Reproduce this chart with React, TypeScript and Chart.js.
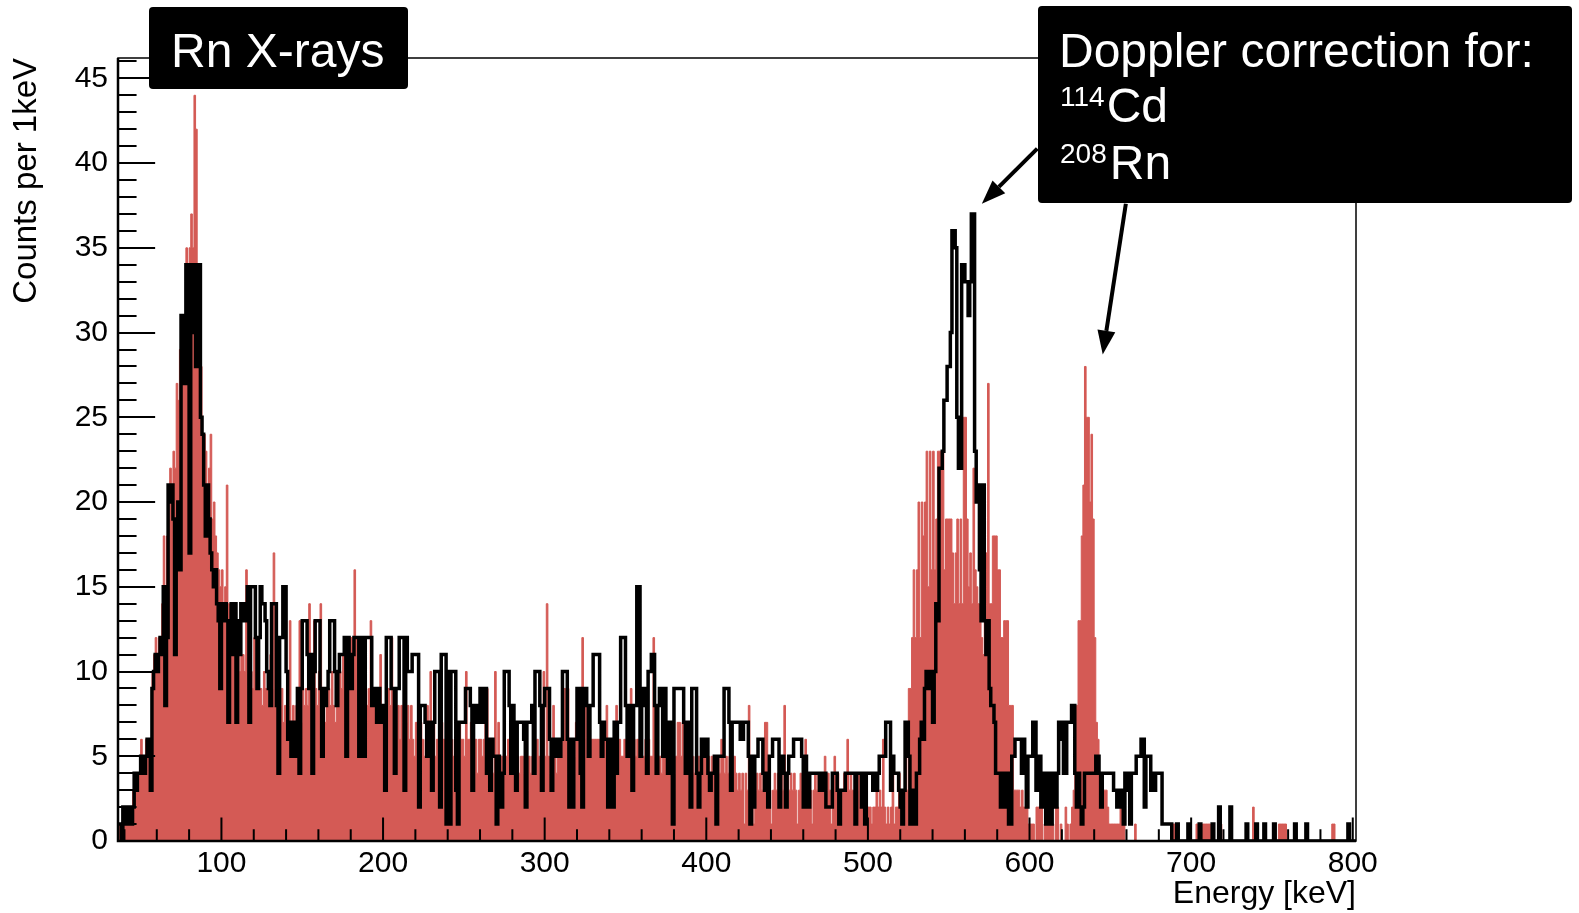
import React, { useEffect, useRef } from "react";
import { Chart, registerables } from "chart.js";

Chart.register(...registerables);

const FONT = "'Liberation Sans', Arial, Helvetica, sans-serif";

// Axis ranges (keV / counts), 1 keV bins starting at xMin
const xMin = 36;
const xMax = 802;
const yMax = 46.2;
const binWidth = 1;
const xTickValues = [100, 200, 300, 400, 500, 600, 700, 800];
const yTickValues = [0, 5, 10, 15, 20, 25, 30, 35, 40, 45];
const xMinorStep = 20;
const yMinorStep = 1;

// Black histogram (Doppler correction for 114Cd), counts per 1 keV bin
const blackA = [
  1, 1, 0, 2, 2, 1, 2, 2, 1, 2, // 36
  4, 3, 4, 4, 5, 5, 4, 5, 6, 5, // 46
  3, 9, 10, 11, 10, 11, 12, 11, 15, 8, // 56
  12, 21, 20, 21, 19, 11, 19, 20, 16, 31, // 66
  30, 27, 34, 34, 17, 30, 34, 33, 28, 34, // 76
  34, 25, 24, 21, 18, 21, 19, 17, 16, 15, // 86
  16, 14, 13, 9, 14, 13, 14, 13, 7, 12, // 96
  14, 11, 14, 7, 13, 11, 14, 14, 13, 14, // 106
  15, 7, 15, 15, 15, 12, 9, 12, 15, 14, // 116
  14, 13, 10, 9, 8, 14, 14, 14, 8, 4, // 126
  12, 12, 15, 15, 10, 6, 7, 5, 7, 5, // 136
  7, 9, 4, 9, 13, 13, 13, 11, 9, 11, // 146
  4, 10, 13, 13, 13, 9, 5, 9, 8, 9, // 156
  10, 13, 13, 13, 10, 8, 10, 11, 11, 11, // 166
  12, 5, 12, 11, 9, 11, 12, 12, 12, 5, // 176
  12, 9, 5, 12, 12, 12, 12, 8, 9, 8, // 186
  7, 9, 7, 8, 7, 3, 12, 12, 12, 9, // 196
  9, 4, 9, 9, 12, 12, 12, 3, 12, 10, // 206
  10, 10, 11, 11, 11, 11, 2, 8, 8, 8, // 216
  7, 5, 7, 7, 3, 7, 10, 10, 10, 2, // 226
];
const blackB = [
  11, 11, 11, 1, 10, 1, 10, 10, 10, 3, // 236
  1, 7, 7, 7, 7, 9, 9, 9, 8, 3, // 246
  8, 8, 7, 7, 9, 9, 7, 9, 4, 6, // 256
  3, 6, 5, 5, 1, 5, 4, 2, 4, 10, // 266
  10, 10, 8, 4, 8, 7, 3, 7, 7, 7, // 276
  7, 6, 2, 7, 7, 7, 8, 4, 10, 10, // 286
  10, 8, 3, 8, 9, 9, 9, 6, 3, 6, // 296
  6, 5, 6, 5, 6, 10, 10, 10, 6, 2, // 306
  6, 2, 6, 6, 9, 9, 4, 2, 9, 9, // 316
  8, 5, 8, 8, 11, 11, 11, 11, 7, 5, // 326
  7, 6, 6, 2, 6, 6, 2, 7, 4, 7, // 336
  7, 12, 12, 12, 8, 5, 8, 8, 3, 8, // 346
  8, 15, 15, 5, 8, 9, 9, 4, 10, 10, // 356
  11, 11, 8, 4, 8, 9, 9, 5, 9, 7, // 366
  4, 7, 7, 1, 9, 9, 9, 9, 9, 9, // 376
  7, 4, 7, 4, 2, 9, 9, 9, 4, 2, // 386
  4, 6, 5, 6, 6, 4, 3, 4, 4, 5, // 396
  1, 5, 5, 5, 5, 9, 9, 9, 7, 3, // 406
  7, 7, 7, 7, 7, 6, 6, 7, 7, 7, // 416
  5, 1, 5, 2, 5, 5, 6, 6, 6, 4, // 426
];
const blackC = [
  3, 4, 2, 5, 5, 6, 6, 6, 6, 2, // 436
  5, 5, 4, 2, 4, 5, 5, 5, 6, 6, // 446
  6, 6, 6, 5, 2, 5, 4, 2, 4, 4, // 456
  4, 4, 4, 4, 3, 4, 3, 4, 2, 2, // 466
  2, 2, 4, 4, 4, 3, 1, 3, 3, 3, // 476
  4, 4, 4, 4, 4, 4, 1, 4, 4, 4, // 486
  2, 4, 1, 4, 4, 4, 4, 3, 4, 3, // 496
  4, 5, 5, 5, 5, 7, 7, 7, 3, 5, // 506
  4, 4, 4, 3, 2, 1, 3, 7, 7, 5, // 516
  1, 3, 3, 1, 4, 4, 6, 7, 6, 9, // 526
  10, 10, 9, 10, 7, 10, 14, 13, 22, 22, // 536
  23, 26, 26, 28, 28, 30, 36, 36, 35, 25, // 546
  22, 22, 34, 34, 33, 33, 31, 33, 37, 37, // 556
  23, 20, 21, 16, 13, 21, 13, 11, 13, 9, // 566
  8, 8, 7, 4, 4, 4, 2, 4, 4, 2, // 576
  4, 1, 1, 5, 5, 6, 6, 6, 6, 4, // 586
  6, 5, 2, 5, 5, 5, 7, 7, 3, 5, // 596
  5, 2, 4, 4, 1, 4, 4, 1, 4, 4, // 606
  2, 4, 7, 6, 7, 4, 4, 7, 7, 7, // 616
  8, 8, 4, 2, 4, 2, 1, 2, 4, 4, // 626
];
const blackD = [
  4, 4, 4, 4, 4, 5, 5, 4, 2, 4, // 636
  4, 4, 4, 4, 4, 4, 3, 3, 2, 2, // 646
  3, 2, 1, 4, 4, 3, 1, 4, 4, 4, // 656
  5, 5, 5, 6, 6, 2, 5, 5, 5, 3, // 666
  4, 3, 4, 4, 4, 4, 1, 1, 1, 1, // 676
  1, 1, 0, 0, 0, 1, 0, 0, 0, 0, // 686
  0, 0, 1, 0, 0, 0, 0, 0, 0, 1, // 696
  0, 0, 0, 0, 0, 0, 0, 1, 0, 0, // 706
  0, 2, 0, 0, 0, 0, 0, 0, 2, 0, // 716
  0, 0, 0, 0, 0, 0, 0, 0, 1, 0, // 726
  0, 0, 0, 0, 1, 0, 0, 0, 0, 1, // 736
  0, 0, 0, 0, 0, 1, 0, 0, 0, 0, // 746
  0, 0, 0, 0, 0, 0, 0, 0, 1, 0, // 756
  0, 0, 0, 0, 0, 1, 0, 0, 0, 0, // 766
  0, 0, 0, 0, 0, 0, 0, 0, 0, 0, // 776
  0, 0, 0, 0, 0, 0, 0, 0, 0, 0, // 786
  0, 1, 0, 0, 0, 0, // 796
];

// Red filled histogram (Doppler correction for 208Rn), counts per 1 keV bin
const redA = [
  0, 1, 1, 1, 2, 1, 2, 2, 2, 3, // 36
  3, 4, 3, 4, 6, 5, 4, 6, 5, 6, // 46
  5, 10, 11, 12, 11, 12, 12, 14, 18, 15, // 56
  18, 19, 22, 21, 23, 22, 27, 26, 29, 28, // 66
  30, 28, 35, 33, 35, 37, 35, 44, 42, 33, // 76
  30, 28, 24, 24, 23, 21, 22, 24, 19, 20, // 86
  18, 17, 16, 15, 16, 14, 15, 21, 14, 13, // 96
  14, 12, 11, 11, 12, 10, 11, 11, 10, 16, // 106
  11, 9, 10, 9, 12, 9, 10, 9, 9, 8, // 116
  10, 9, 9, 8, 11, 9, 17, 8, 9, 7, // 126
  8, 9, 7, 8, 6, 8, 13, 7, 8, 6, // 136
  8, 9, 13, 7, 9, 8, 9, 8, 14, 9, // 146
  8, 13, 9, 8, 10, 14, 8, 9, 7, 8, // 156
  9, 8, 10, 8, 7, 9, 8, 10, 9, 11, // 166
  12, 10, 12, 11, 12, 11, 16, 12, 11, 12, // 176
  9, 10, 8, 9, 8, 9, 13, 8, 9, 7, // 186
  8, 8, 11, 8, 8, 7, 8, 9, 8, 12, // 196
  8, 9, 7, 8, 6, 8, 7, 6, 7, 8, // 206
  6, 8, 6, 5, 7, 6, 6, 7, 6, 5, // 216
  6, 8, 6, 10, 6, 7, 5, 6, 6, 5, // 226
];
const redB = [
  7, 6, 6, 5, 6, 4, 6, 5, 6, 6, // 236
  4, 7, 6, 6, 5, 10, 6, 6, 7, 5, // 246
  6, 6, 4, 6, 6, 5, 6, 7, 9, 6, // 256
  5, 6, 4, 10, 5, 7, 4, 5, 5, 4, // 266
  5, 6, 4, 5, 5, 4, 6, 5, 4, 5, // 276
  5, 4, 5, 3, 5, 4, 5, 5, 4, 6, // 286
  5, 4, 5, 10, 5, 14, 5, 4, 6, 8, // 296
  5, 4, 6, 5, 5, 6, 9, 9, 9, 6, // 306
  5, 6, 5, 7, 6, 6, 5, 12, 6, 9, // 316
  5, 6, 6, 6, 6, 6, 6, 6, 5, 7, // 326
  5, 6, 8, 5, 6, 5, 6, 5, 8, 5, // 336
  6, 5, 5, 6, 5, 6, 5, 9, 5, 6, // 346
  5, 6, 5, 6, 5, 5, 6, 5, 6, 5, // 356
  5, 12, 5, 6, 5, 5, 4, 5, 6, 5, // 366
  4, 5, 5, 5, 4, 5, 7, 7, 5, 7, // 376
  4, 5, 5, 4, 5, 5, 4, 5, 5, 5, // 386
  4, 6, 6, 5, 6, 5, 4, 5, 4, 5, // 396
  4, 5, 4, 6, 5, 4, 5, 4, 5, 4, // 406
  4, 5, 4, 3, 4, 3, 4, 1, 4, 3, // 416
  8, 3, 4, 1, 3, 4, 3, 4, 3, 4, // 426
];
const redC = [
  7, 7, 4, 3, 1, 3, 4, 3, 4, 3, // 436
  4, 3, 8, 3, 4, 3, 4, 3, 4, 3, // 446
  1, 3, 4, 3, 4, 6, 3, 4, 3, 1, // 456
  3, 4, 3, 4, 3, 4, 3, 5, 3, 4, // 466
  3, 1, 3, 5, 3, 4, 3, 1, 3, 4, // 476
  3, 6, 3, 4, 3, 1, 3, 3, 4, 2, // 486
  2, 3, 2, 1, 2, 2, 1, 2, 2, 3, // 496
  2, 3, 2, 6, 2, 1, 2, 1, 2, 5, // 506
  1, 2, 2, 4, 1, 2, 3, 5, 3, 9, // 516
  9, 12, 16, 12, 16, 20, 12, 20, 18, 20, // 526
  23, 15, 23, 16, 23, 16, 19, 23, 23, 23, // 536
  23, 16, 19, 19, 19, 19, 17, 14, 17, 19, // 546
  14, 19, 14, 25, 25, 19, 15, 17, 14, 22, // 556
  16, 15, 14, 13, 12, 11, 14, 17, 27, 14, // 566
  14, 18, 18, 18, 16, 16, 12, 12, 13, 13, // 576
  13, 8, 8, 8, 3, 3, 3, 3, 2, 3, // 586
  2, 2, 2, 1, 1, 1, 1, 0, 2, 2, // 596
  2, 2, 0, 1, 1, 1, 1, 1, 1, 0, // 606
  2, 2, 0, 1, 0, 0, 2, 1, 0, 1, // 616
  2, 3, 8, 8, 13, 13, 18, 21, 28, 25, // 626
];
const redD = [
  25, 20, 24, 19, 12, 7, 6, 3, 3, 3, // 636
  3, 3, 2, 1, 1, 1, 1, 1, 1, 1, // 646
  2, 2, 1, 0, 0, 0, 0, 0, 0, 1, // 656
  0, 0, 0, 0, 0, 0, 0, 0, 0, 0, // 666
  0, 0, 0, 0, 0, 0, 0, 0, 0, 0, // 676
  0, 0, 1, 1, 0, 0, 0, 0, 0, 0, // 686
  0, 0, 0, 0, 0, 0, 0, 1, 1, 1, // 696
  0, 1, 1, 1, 1, 1, 0, 0, 0, 0, // 706
  0, 0, 1, 0, 0, 0, 0, 0, 0, 0, // 716
  0, 0, 0, 0, 0, 0, 0, 0, 0, 0, // 726
  0, 0, 2, 1, 1, 0, 0, 0, 0, 0, // 736
  0, 0, 0, 0, 0, 0, 0, 0, 1, 1, // 746
  1, 1, 1, 0, 0, 0, 0, 0, 0, 0, // 756
  0, 0, 0, 0, 0, 0, 0, 0, 0, 0, // 766
  0, 0, 0, 0, 0, 0, 0, 0, 0, 0, // 776
  0, 1, 1, 0, 0, 0, 0, 0, 0, 0, // 786
  0, 0, 0, 0, 0, 0, // 796
];

const blackCounts = [...blackA, ...blackB, ...blackC, ...blackD];
const redCounts = [...redA, ...redB, ...redC, ...redD];

// Annotation arrows, in data coordinates (keV, counts)
const arrowFrom = [
  [604.8, 40.85],
  [659.6, 37.6],
];
const arrowTo = [
  [570.5, 37.6],
  [645.3, 28.7],
];

const RED = "#d45a55";

function toSteps(counts: number[]) {
  const pts = counts.map((c, i) => ({ x: xMin + i * binWidth, y: c }));
  pts.push({ x: xMin + counts.length * binWidth, y: counts[counts.length - 1] });
  return pts;
}

function roundBox(ctx: CanvasRenderingContext2D, x0: number, y0: number, x1: number, y1: number, r: number) {
  ctx.beginPath();
  if ((ctx as any).roundRect) {
    (ctx as any).roundRect(x0, y0, x1 - x0, y1 - y0, r);
  } else {
    ctx.rect(x0, y0, x1 - x0, y1 - y0);
  }
  ctx.fill();
}

const rootAxesPlugin = {
  id: "rootAxes",
  afterDatasetsDraw(chart: any) {
    const { ctx, chartArea, scales } = chart;
    const { left, right, top, bottom } = chartArea;
    const x = scales.x;
    const y = scales.y;
    ctx.save();
    ctx.strokeStyle = "#000";
    ctx.lineWidth = 1.5;
    ctx.strokeRect(left, top, right - left, bottom - top);
    ctx.lineWidth = 2.5;
    ctx.beginPath();
    ctx.moveTo(left, top);
    ctx.lineTo(left, bottom);
    ctx.lineTo(right, bottom);
    ctx.stroke();
    ctx.lineWidth = 2;
    const yMajorLen = 0.03 * (right - left);
    const xMajorLen = 0.03 * (bottom - top);
    ctx.beginPath();
    for (let v = 0; v <= yMax + 1e-9; v += yMinorStep) {
      const py = Math.round(y.getPixelForValue(v));
      const isMajor = yTickValues.includes(v);
      const len = isMajor ? yMajorLen : yMajorLen / 2;
      ctx.moveTo(left, py);
      ctx.lineTo(left + len, py);
    }
    const firstMinor = Math.ceil(xMin / xMinorStep) * xMinorStep;
    for (let v = firstMinor; v <= xMax; v += xMinorStep) {
      const px = x.getPixelForValue(v);
      const isMajor = xTickValues.includes(v);
      const len = isMajor ? xMajorLen : xMajorLen / 2;
      ctx.moveTo(px, bottom);
      ctx.lineTo(px, bottom - len);
    }
    ctx.stroke();
    ctx.restore();
  },
  afterDraw(chart: any) {
    const { ctx, scales } = chart;
    const x = scales.x;
    const y = scales.y;
    ctx.save();
    // arrows
    ctx.strokeStyle = "#000";
    ctx.fillStyle = "#000";
    ctx.lineWidth = 4;
    for (let i = 0; i < arrowFrom.length; i++) {
      const x0 = x.getPixelForValue(arrowFrom[i][0]);
      const y0 = y.getPixelForValue(arrowFrom[i][1]);
      const x1 = x.getPixelForValue(arrowTo[i][0]);
      const y1 = y.getPixelForValue(arrowTo[i][1]);
      const ang = Math.atan2(y1 - y0, x1 - x0);
      const headLen = 24;
      const headHalf = 9;
      const bx = x1 - headLen * Math.cos(ang);
      const by = y1 - headLen * Math.sin(ang);
      ctx.beginPath();
      ctx.moveTo(x0, y0);
      ctx.lineTo(bx, by);
      ctx.stroke();
      ctx.beginPath();
      ctx.moveTo(x1, y1);
      ctx.lineTo(bx + headHalf * Math.sin(ang), by - headHalf * Math.cos(ang));
      ctx.lineTo(bx - headHalf * Math.sin(ang), by + headHalf * Math.cos(ang));
      ctx.closePath();
      ctx.fill();
    }
    // label boxes
    ctx.fillStyle = "#000";
    roundBox(ctx, 149, 7, 408, 89, 4);
    roundBox(ctx, 1038, 6, 1572, 203, 4);
    ctx.fillStyle = "#fff";
    ctx.textAlign = "left";
    ctx.textBaseline = "alphabetic";
    ctx.font = `48px ${FONT}`;
    ctx.fillText("Rn X-rays", 171, 66.5);
    ctx.fillText("Doppler correction for:", 1059, 66.5);
    ctx.font = `28px ${FONT}`;
    ctx.fillText("114", 1060, 106);
    const w114 = ctx.measureText("114").width;
    ctx.fillText("208", 1060, 163);
    const w208 = ctx.measureText("208").width;
    ctx.font = `48px ${FONT}`;
    ctx.fillText("Cd", 1060 + w114 + 2, 121.5);
    ctx.fillText("Rn", 1060 + w208 + 3, 178.5);
    ctx.restore();
  },
};

export default function App() {
  const canvasRef = useRef<HTMLCanvasElement | null>(null);

  useEffect(() => {
    const canvas = canvasRef.current;
    if (!canvas) return;
    Chart.defaults.font.family = FONT;
    Chart.defaults.color = "#000";
    const chart = new Chart(canvas, {
      type: "line",
      data: {
        datasets: [
          {
            label: "114Cd",
            data: toSteps(blackCounts),
            stepped: "before",
            borderColor: "#000",
            borderWidth: 3.5,
            fill: false,
            pointRadius: 0,
            order: 0,
          },
          {
            label: "208Rn",
            data: toSteps(redCounts),
            stepped: "before",
            borderColor: RED,
            backgroundColor: RED,
            borderWidth: 1,
            fill: "origin",
            pointRadius: 0,
            order: 1,
          },
        ],
      },
      options: {
        animation: false,
        responsive: false,
        devicePixelRatio: 1,
        parsing: false,
        normalized: true,
        events: [],
        layout: { padding: { left: 0, right: 223, top: 58, bottom: 0 } },
        plugins: {
          legend: { display: false },
          tooltip: { enabled: false },
        },
        scales: {
          x: {
            type: "linear",
            position: "bottom",
            min: xMin,
            max: xMax,
            grid: { display: false, drawTicks: false },
            border: { display: false },
            afterBuildTicks: (scale: any) => {
              scale.ticks = xTickValues.map((v) => ({ value: v }));
            },
            afterFit: (scale: any) => {
              scale.height = 72;
            },
            ticks: {
              autoSkip: false,
              maxRotation: 0,
              padding: 5,
              color: "#000",
              font: { size: 30, family: FONT },
              callback: (v: any) => String(v),
            },
            title: {
              display: true,
              text: "Energy [keV]",
              align: "end",
              color: "#000",
              font: { size: 32, family: FONT },
              padding: { top: 0, bottom: 0 },
            },
          },
          y: {
            type: "linear",
            position: "left",
            min: 0,
            max: yMax,
            grid: { display: false, drawTicks: false },
            border: { display: false },
            afterBuildTicks: (scale: any) => {
              scale.ticks = yTickValues.map((v) => ({ value: v }));
            },
            afterFit: (scale: any) => {
              scale.width = 118;
            },
            ticks: {
              autoSkip: false,
              padding: 10,
              color: "#000",
              font: { size: 30, family: FONT },
              callback: (v: any) => String(v),
            },
            title: {
              display: true,
              text: "Counts per 1keV",
              align: "end",
              color: "#000",
              font: { size: 33, family: FONT },
              padding: { top: 7, bottom: 0 },
            },
          },
        },
      } as any,
      plugins: [rootAxesPlugin],
    });
    return () => chart.destroy();
  }, []);

  return (
    <div style={{ position: "fixed", left: 0, top: 0, width: 1579, height: 913, background: "#fff" }}>
      <canvas ref={canvasRef} width={1579} height={913} style={{ display: "block" }} />
    </div>
  );
}
